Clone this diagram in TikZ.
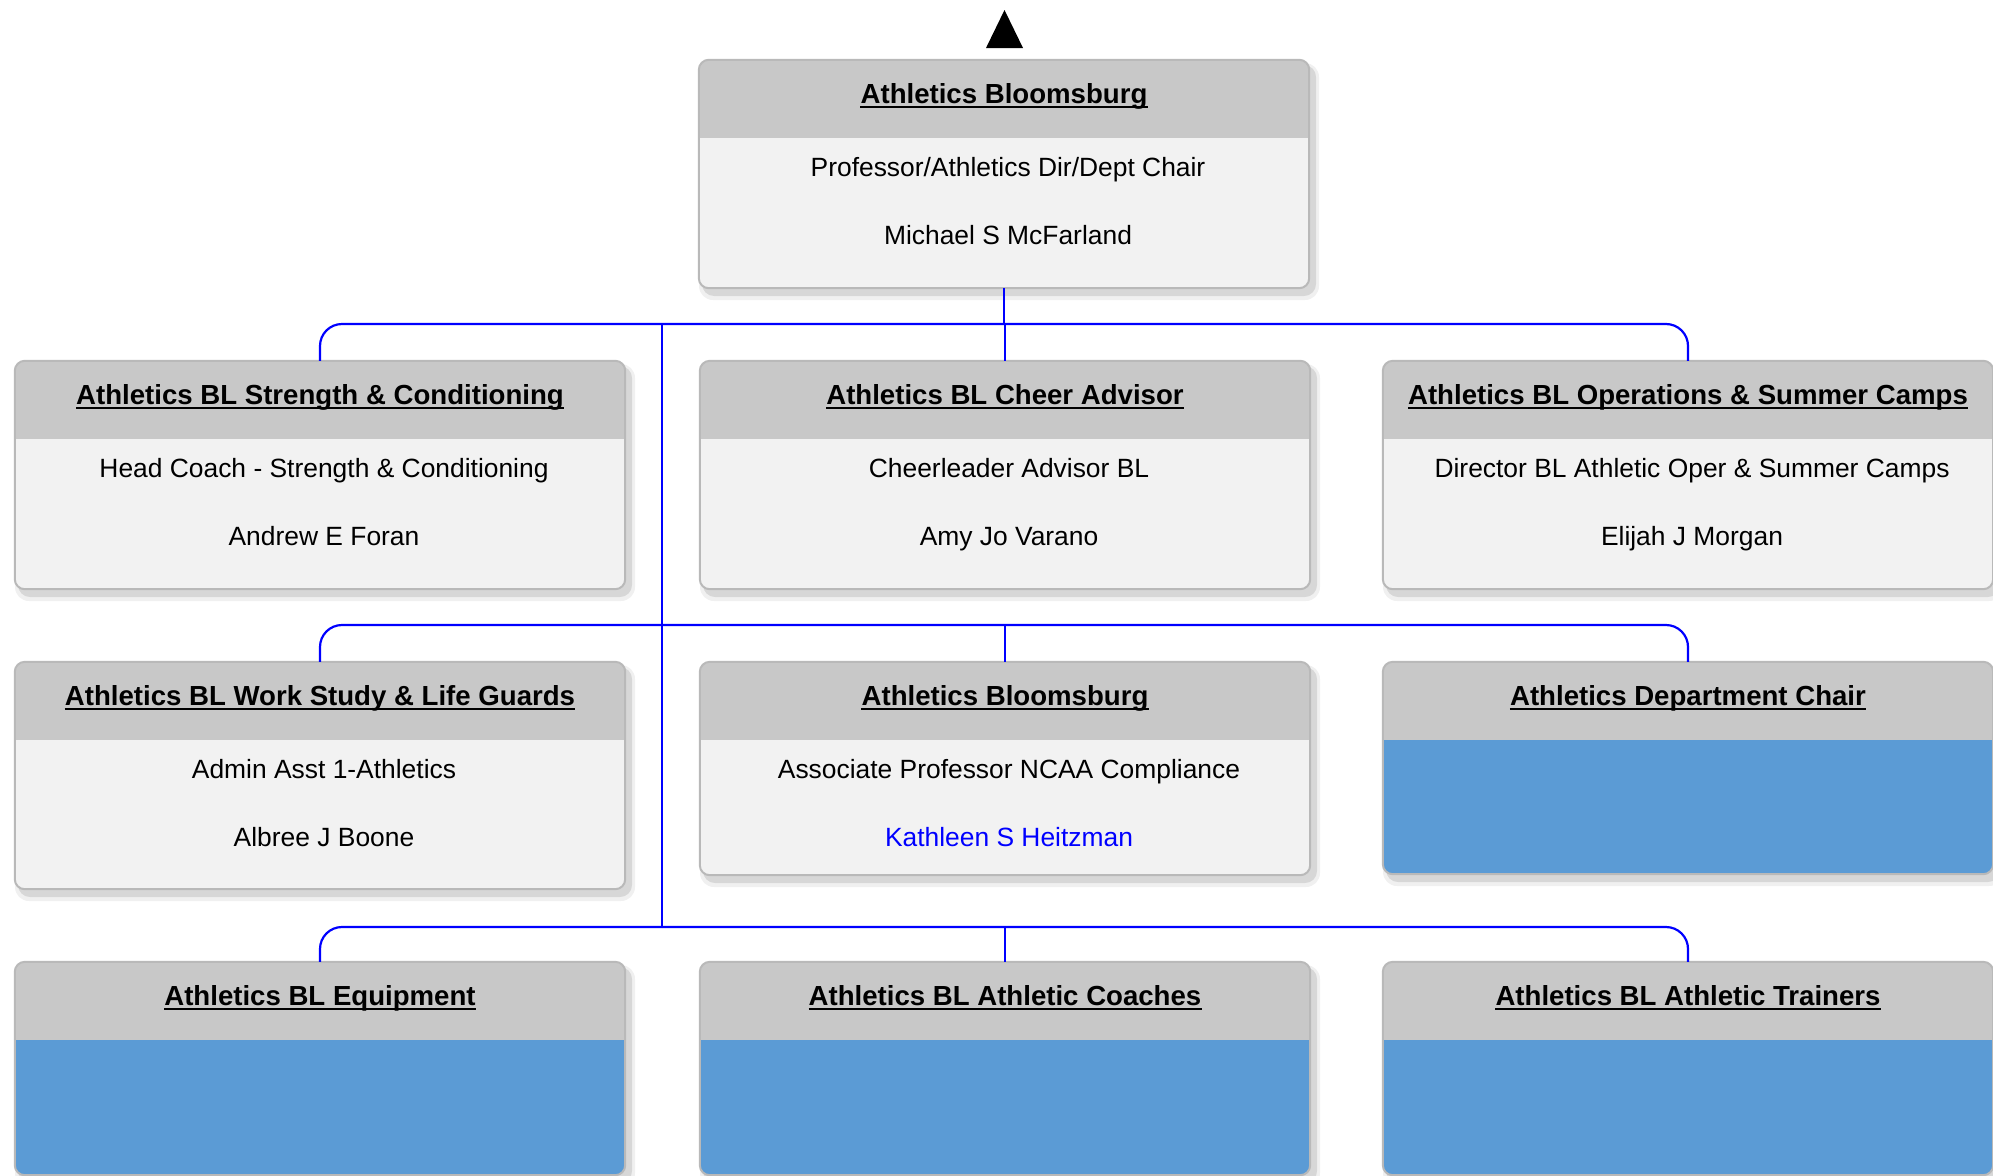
\documentclass[tikz,border=0pt]{standalone}
\usepackage{fontspec}
\setmainfont{Liberation Sans}
\definecolor{hdrgray}{RGB}{200,200,200}
\definecolor{bodygray}{RGB}{242,242,242}
\definecolor{bodyblue}{RGB}{91,155,213}
\definecolor{bordgray}{RGB}{185,185,185}
\definecolor{connblue}{RGB}{0,0,255}
\tikzset{
  bx/.style={rectangle, rounded corners=10pt, minimum width=610, inner sep=0pt, draw=none},
  hdr/.style={fill=hdrgray},
  bord/.style={draw=bordgray, line width=2pt, rounded corners=10pt},
  ttl/.style={anchor=base, inner sep=0pt, font=\fontsize{27.6}{32}\selectfont\bfseries},
  txt/.style={anchor=base, inner sep=0pt, font=\fontsize{26.4}{31}\selectfont},
  conn/.style={draw=connblue, line width=2.2pt},
  rc/.style={rounded corners=22pt},
}
% #1 name, #2 cx, #3 top, #4 height, #5 title, #6 line1, #7 line2, #8 body colour
\newcommand\orgbox[8]{%
  \pgfmathsetmacro\bxL{#2-305}%
  \pgfmathsetmacro\bxR{#2+305}%
  \pgfmathsetmacro\bxB{#3+#4}%
  \pgfmathsetmacro\bxC{#3+#4/2}%
  \fill[black, opacity=.06, rounded corners=14pt] (\bxL+0,#3+3) rectangle (\bxR+10,\bxB+12);
  \fill[black, opacity=.10, rounded corners=12pt] (\bxL+3,#3+5) rectangle (\bxR+7,\bxB+8);
  \node[bx, minimum height=#4, fill=#8] (#1) at (#2,\bxC) {};
  \begin{scope}
    \clip[rounded corners=10pt] (#1.north west) rectangle (#1.south east);
    \fill[hdr] (#1.north west) rectangle ([yshift=-78pt]#1.north east);
  \end{scope}
  \draw[bord] (#1.north west) rectangle (#1.south east);
  \node[ttl] (#1-t) at ([yshift=-44pt]#1.north) {#5};
  \draw[line width=2pt] ([yshift=-3.5pt]#1-t.base west) -- ([yshift=-3.5pt]#1-t.base east);
  \node[txt] (#1-a) at ([xshift=4pt,yshift=-117pt]#1.north) {#6};
  \node[txt] (#1-b) at ([xshift=4pt,yshift=-185pt]#1.north) {#7};
}
\begin{document}
\begin{tikzpicture}[x=1pt,y=-1pt]
\useasboundingbox (0,0) rectangle (1993,1175);
\fill[white] (0,0) rectangle (1993,1175);

% up marker
\fill[black] (986,48) -- (1004.5,10) -- (1023,48) -- cycle;

\orgbox{top}{1004}{60}{228}{Athletics Bloomsburg}{Professor/Athletics Dir/Dept Chair}{Michael S McFarland}{bodygray}

\orgbox{r2a}{320}{361}{228}{Athletics BL Strength \& Conditioning}{Head Coach - Strength \& Conditioning}{Andrew E Foran}{bodygray}
\orgbox{r2b}{1005}{361}{228}{Athletics BL Cheer Advisor}{Cheerleader Advisor BL}{Amy Jo Varano}{bodygray}
\orgbox{r2c}{1688}{361}{228}{Athletics BL Operations \& Summer Camps}{Director BL Athletic Oper \& Summer Camps}{Elijah J Morgan}{bodygray}

\orgbox{r3a}{320}{662}{227}{Athletics BL Work Study \& Life Guards}{Admin Asst 1-Athletics}{Albree J Boone}{bodygray}
\orgbox{r3b}{1005}{662}{213}{Athletics Bloomsburg}{Associate Professor NCAA Compliance}{\textcolor{connblue}{Kathleen S Heitzman}}{bodygray}
\orgbox{r3c}{1688}{662}{212}{Athletics Department Chair}{}{}{bodyblue}

\orgbox{r4a}{320}{962}{213}{Athletics BL Equipment}{}{}{bodyblue}
\orgbox{r4b}{1005}{962}{213}{Athletics BL Athletic Coaches}{}{}{bodyblue}
\orgbox{r4c}{1688}{962}{213}{Athletics BL Athletic Trainers}{}{}{bodyblue}

% connectors
\coordinate (bus1) at (0,324);
\coordinate (t1) at (662,324);
\coordinate (t2) at (662,625);
\coordinate (t3) at (662,927);

\draw[conn] (top.south) -- (top.south |- bus1);
\draw[conn,rc] (top.south |- bus1) -| (r2a.north);
\draw[conn,rc] (top.south |- bus1) -| (r2c.north);
\draw[conn] (top.south |- bus1) -| (r2b.north);
\draw[conn] (t1) -- (t3);

\draw[conn,rc] (t2) -| (r3a.north);
\draw[conn,rc] (t2) -| (r3c.north);
\draw[conn] (t2) -| (r3b.north);

\draw[conn,rc] (t3) -| (r4a.north);
\draw[conn,rc] (t3) -| (r4c.north);
\draw[conn] (t3) -| (r4b.north);
\end{tikzpicture}
\end{document}
